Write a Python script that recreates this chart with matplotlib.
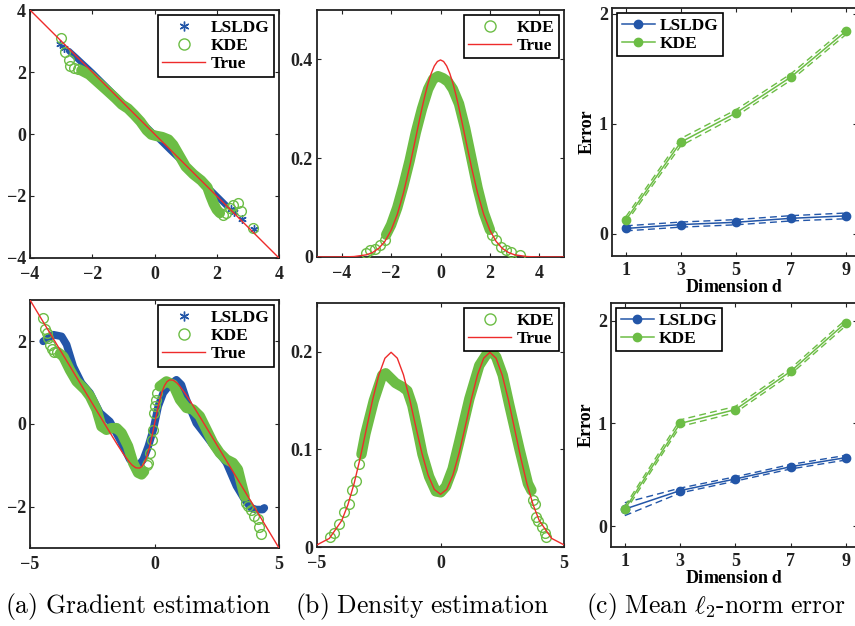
import matplotlib
matplotlib.use("Agg")
import matplotlib.pyplot as plt
from matplotlib.lines import Line2D

plt.rcParams['font.family'] = 'Liberation Serif'
plt.rcParams['font.weight'] = 'bold'
plt.rcParams['font.size'] = 13
plt.rcParams['mathtext.fontset'] = 'stix'

BLUE = '#2356a8'
GREEN = '#6cbd45'
RED = '#ee2b2b'
ASTER = (6, 2, 0)

# ---- (a) gradient, gaussian (top) ----
grad1_true_x = [-4, 4]
grad1_true_y = [4, -4]
ls1_core_x = [-2.75, -2.5, -2.0, -1.5, -1.0, -0.5, 0.0, 0.5, 1.0, 1.5, 2.0, 2.3]
ls1_core_y = [2.68, 2.45, 1.98, 1.48, 0.98, 0.48, -0.02, -0.52, -1.0, -1.5, -2.0, -2.3]
ls1_loose_x = [-3.05, -2.9, 2.45, 2.55, 2.8, 3.2]
ls1_loose_y = [2.9, 2.78, -2.42, -2.5, -2.75, -3.05]
kde1_core_x = [-2.35, -2.1, -1.8, -1.5, -1.25, -1.05, -0.85, -0.65, -0.45, -0.25, -0.1, 0.05,
               0.25, 0.45, 0.6, 0.8, 1.0, 1.25, 1.5, 1.7, 1.8, 1.9, 2.0, 2.1]
kde1_core_y = [2.05, 1.92, 1.65, 1.38, 1.15, 0.95, 0.82, 0.62, 0.4, 0.12, -0.02, -0.06,
               -0.1, -0.18, -0.35, -0.7, -1.05, -1.3, -1.5, -1.72, -2.0, -2.25, -2.44, -2.55]
kde1_loose_x = [-3.0, -2.89, -2.76, -2.7, -2.6, -2.47, 2.2, 2.31, 2.42, 2.52, 2.68, 2.79, 3.17]
kde1_loose_y = [3.09, 2.66, 2.4, 2.2, 2.13, 2.1, -2.6, -2.55, -2.38, -2.28, -2.24, -2.49, -3.03]

# ---- (a) gradient, mixture (bottom) ----
grad2_true_x = [-5, -4, -3, -2.5, -2, -1.75, -1.5, -1.25, -1, -0.9, -0.75, -0.6, -0.5, -0.4, -0.3,
                -0.2, -0.1, 0, 0.1, 0.2, 0.3, 0.4, 0.5, 0.6, 0.75, 0.9, 1, 1.25, 1.5, 1.75, 2,
                2.5, 3, 4, 5]
grad2_true_y = [3.0, 2.0, 1.0, 0.5, 0.001, -0.246, -0.49, -0.723, -0.928, -0.994, -1.06, -1.067,
                -1.023, -0.928, -0.774, -0.56, -0.295, 0, 0.295, 0.56, 0.774, 0.928, 1.023, 1.067,
                1.06, 0.994, 0.928, 0.723, 0.49, 0.246, -0.001, -0.5, -1.0, -2.0, -3.0]
ls2_core_x = [-4.47, -4.06, -3.73, -3.53, -3.26, -2.93, -2.59, -2.19, -1.79, -1.39, -0.99, -0.66,
              -0.45, -0.25, -0.05, 0.15, 0.35, 0.61, 0.88, 1.08, 1.28, 1.68, 2.09, 2.49, 2.89,
              3.29, 3.62, 3.88, 4.08, 4.35, 4.41]
ls2_core_y = [2.0, 2.16, 2.12, 1.92, 1.39, 0.99, 0.75, 0.27, 0.06, -0.38, -0.86, -1.02, -0.86,
              -0.54, -0.14, 0.43, 0.75, 0.95, 1.07, 0.95, 0.59, 0.02, -0.3, -0.62, -0.94, -1.5,
              -1.83, -2.03, -2.07, -2.07, -2.03]
kde2_left_x = [-3.8, -3.66, -3.4, -3.13, -2.79, -2.59, -2.33, -2.13, -1.93, -1.72, -1.52, -1.32,
               -1.06, -0.86, -0.66, -0.52, -0.42]
kde2_left_y = [1.7, 1.63, 1.31, 1.03, 0.83, 0.67, 0.35, -0.06, -0.14, -0.1, -0.1, -0.22, -0.54,
               -0.94, -1.18, -1.22, -1.15]
kde2_right_x = [0.21, 0.48, 0.75, 1.02, 1.28, 1.55, 1.82, 2.09, 2.35, 2.62, 2.89, 3.15, 3.35,
                3.48, 3.62]
kde2_right_y = [0.91, 1.03, 0.95, 0.59, 0.39, 0.35, 0.19, -0.14, -0.46, -0.7, -0.86, -0.94, -1.1,
                -1.42, -1.75]
kde2_loose_x = [-4.47, -4.4, -4.33, -4.26, -4.2, -4.13, -4.04, -3.93,
                -0.32, -0.25, -0.19, -0.12, -0.08, -0.03, 0.01, 0.05, 0.11,
                3.68, 3.75, 3.88, 4.01, 4.15, 4.21, 4.28]
kde2_loose_y = [2.56, 2.29, 2.21, 2.08, 1.92, 1.81, 1.75, 1.73,
                -1.0, -0.94, -0.7, -0.38, -0.14, 0.27, 0.43, 0.59, 0.75,
                -1.91, -1.99, -2.07, -2.23, -2.31, -2.49, -2.67]

# ---- (b) density, gaussian (top) ----
dens1_true_x = [-5, -4, -3.5, -3, -2.75, -2.5, -2.25, -2, -1.75, -1.5, -1.25, -1, -0.875, -0.75,
                -0.625, -0.5, -0.375, -0.25, -0.125, 0, 0.125, 0.25, 0.375, 0.5, 0.625, 0.75,
                0.875, 1, 1.25, 1.5, 1.75, 2, 2.25, 2.5, 2.75, 3, 3.5, 4, 5]
dens1_true_y = [0.0, 0.0001, 0.0009, 0.0044, 0.0091, 0.0175, 0.0317, 0.054, 0.0863, 0.1295,
                0.1826, 0.242, 0.2719, 0.3011, 0.328, 0.3521, 0.3717, 0.3867, 0.3958, 0.3989,
                0.3958, 0.3867, 0.3717, 0.3521, 0.328, 0.3011, 0.2719, 0.242, 0.1826, 0.1295,
                0.0863, 0.054, 0.0317, 0.0175, 0.0091, 0.0044, 0.0009, 0.0001, 0.0]
kde3_core_x = [-2.2, -2.0, -1.75, -1.5, -1.25, -1.0, -0.75, -0.5, -0.3, -0.1, 0.1, 0.3, 0.5,
               0.75, 1.0, 1.25, 1.5, 1.75, 2.0]
kde3_core_y = [0.045, 0.065, 0.1, 0.145, 0.195, 0.252, 0.3, 0.34, 0.36, 0.366, 0.362, 0.355,
               0.34, 0.31, 0.26, 0.2, 0.14, 0.09, 0.055]
kde3_loose_x = [-3.0, -2.85, -2.64, -2.44, -2.24, 2.1, 2.24, 2.44, 2.64, 2.85, 3.23]
kde3_loose_y = [0.009, 0.0136, 0.017, 0.024, 0.034, 0.044, 0.034, 0.02, 0.014, 0.01, 0.0034]

# ---- (b) density, mixture (bottom) ----
dens2_true_x = [-5, -4.5, -4, -3.75, -3.5, -3.25, -3, -2.75, -2.5, -2.25, -2, -1.75, -1.5,
                -1.25, -1, -0.75, -0.5, -0.25, 0, 0.25, 0.5, 0.75, 1, 1.25, 1.5, 1.75, 2, 2.25,
                2.5, 2.75, 3, 3.25, 3.5, 3.75, 4, 4.5, 5]
dens2_true_y = [0.0022, 0.0088, 0.027, 0.0432, 0.0648, 0.0913, 0.121, 0.1506, 0.176, 0.1934,
                0.1995, 0.1935, 0.1765, 0.1516, 0.1232, 0.0959, 0.0735, 0.059, 0.054, 0.059,
                0.0735, 0.0959, 0.1232, 0.1516, 0.1765, 0.1935, 0.1995, 0.1934, 0.176, 0.1506,
                0.121, 0.0913, 0.0648, 0.0432, 0.027, 0.0088, 0.0022]
kde4_core_x = [-3.2, -3.04, -2.7, -2.36, -2.22, -2.02, -1.82, -1.54, -1.34, -1.14, -0.93, -0.73,
               -0.46, -0.19, 0.01, 0.22, 0.49, 0.76, 1.17, 1.57, 1.98, 2.25, 2.52, 2.79, 3.2,
               3.54, 3.68]
kde4_core_y = [0.095, 0.116, 0.150, 0.176, 0.178, 0.173, 0.168, 0.164, 0.160, 0.145, 0.12, 0.095,
               0.072, 0.057, 0.056, 0.062, 0.08, 0.108, 0.152, 0.186, 0.202, 0.195, 0.176, 0.145,
               0.1, 0.065, 0.058]
kde4_loose_x = [-4.46, -4.32, -4.12, -3.92, -3.71, -3.58, -3.44, -3.31,
                3.75, 3.82, 3.88, 3.95, 4.09, 4.22, 4.28]
kde4_loose_y = [0.010, 0.014, 0.024, 0.036, 0.044, 0.058, 0.068, 0.085,
                0.048, 0.044, 0.031, 0.027, 0.021, 0.014, 0.010]

# ---- (c) mean error vs dimension ----
dims = [1, 3, 5, 7, 9]
err1_ls = [0.05, 0.085, 0.106, 0.142, 0.164]
err1_ls_lo = [0.028, 0.062, 0.083, 0.118, 0.138]
err1_ls_hi = [0.074, 0.108, 0.13, 0.166, 0.19]
err1_kde = [0.127, 0.833, 1.097, 1.424, 1.84]
err1_kde_lo = [0.1, 0.8, 1.068, 1.395, 1.81]
err1_kde_hi = [0.155, 0.866, 1.126, 1.453, 1.87]
err2_ls = [0.168, 0.348, 0.461, 0.58, 0.668]
err2_ls_lo = [0.105, 0.325, 0.44, 0.558, 0.645]
err2_ls_hi = [0.23, 0.372, 0.482, 0.602, 0.69]
err2_kde = [0.168, 1.0, 1.135, 1.506, 1.98]
err2_kde_lo = [0.14, 0.97, 1.105, 1.478, 1.95]
err2_kde_hi = [0.196, 1.035, 1.165, 1.534, 2.01]

W, H = 855, 626
FS = 13
BAND = 7.5
fig = plt.figure(figsize=(W / 100, H / 100), dpi=100)


def box(l, t, r, b):
    return [l / W, 1 - b / H, (r - l) / W, (b - t) / H]


def style(ax, xpad=6):
    ax.tick_params(direction='in', length=3, width=0.8, top=True, right=True,
                   labelsize=FS, pad=3, colors='#222222')
    ax.tick_params(axis='x', pad=xpad)
    for s in ax.spines.values():
        s.set_linewidth(1.3)
        s.set_color('#222222')
    for lab in ax.get_xticklabels() + ax.get_yticklabels():
        lab.set_fontweight('bold')


def add_legend(ax, handles, labels, loc, hl):
    leg = ax.legend(handles, labels, loc=loc, fancybox=False, framealpha=1,
                    edgecolor='black', handlelength=hl, labelspacing=0.12,
                    borderpad=0.25, borderaxespad=0.3, handletextpad=0.3,
                    prop={'weight': 'bold', 'size': 12.5})
    leg.get_frame().set_linewidth(1.2)


def grad_legend(ax):
    h = [Line2D([], [], ls='none', marker=ASTER, color=BLUE, ms=7, mew=1),
         Line2D([], [], ls='none', marker='o', mfc='none', mec=GREEN, ms=8, mew=1),
         Line2D([], [], color=RED, lw=1)]
    add_legend(ax, h, ['LSLDG', 'KDE', 'True'], 'upper right', 2.5)


def dens_legend(ax):
    h = [Line2D([], [], ls='none', marker='o', mfc='none', mec=GREEN, ms=8, mew=1),
         Line2D([], [], color=RED, lw=1)]
    add_legend(ax, h, ['KDE', 'True'], 'upper right', 2.5)


def err_panel(ax, ls, ls_lo, ls_hi, kde, kde_lo, kde_hi, ylim):
    for y in (ls_lo, ls_hi):
        ax.plot(dims, y, '--', color=BLUE, lw=1.0, dashes=(5, 3))
    for y in (kde_lo, kde_hi):
        ax.plot(dims, y, '--', color=GREEN, lw=1.0, dashes=(5, 3))
    l1, = ax.plot(dims, ls, '-o', color=BLUE, lw=1.1, ms=6, mec=BLUE)
    l2, = ax.plot(dims, kde, '-o', color=GREEN, lw=1.1, ms=6, mec=GREEN)
    ax.set_xlim(0.5, 9.4)
    ax.set_ylim(*ylim)
    ax.set_xticks(dims)
    ax.set_yticks([0, 1, 2])
    ax.set_xlabel(r'Dimension $\mathrm{d}$', fontweight='bold', fontsize=FS, labelpad=0.5)
    ax.set_ylabel('Error', fontweight='bold', fontsize=FS, labelpad=2)
    style(ax, xpad=4)
    add_legend(ax, [l1, l2], ['LSLDG', 'KDE'], 'upper left', 1.9)


def band(ax, x, y, color, lw, z):
    ax.plot(x, y, color=color, lw=lw, solid_joinstyle='round', solid_capstyle='round', zorder=z)


def circles(ax, x, y):
    ax.plot(x, y, ls='none', marker='o', mfc='none', mec=GREEN, ms=7, mew=1, zorder=3)


# (a) top
ax = fig.add_axes(box(30, 10, 279, 258))
band(ax, ls1_core_x, ls1_core_y, BLUE, 4.5, 2)
ax.plot(ls1_loose_x, ls1_loose_y, ls='none', marker=ASTER, color=BLUE, ms=6, mew=1, zorder=2)
band(ax, kde1_core_x, kde1_core_y, GREEN, BAND, 3)
circles(ax, kde1_loose_x, kde1_loose_y)
ax.plot(grad1_true_x, grad1_true_y, color=RED, lw=1, zorder=4)
ax.set_xlim(-4, 4)
ax.set_ylim(-4, 4)
ax.set_xticks([-4, -2, 0, 2, 4])
ax.set_yticks([-4, -2, 0, 2, 4])
ax.set_xticklabels(['\u22124', '\u22122', '0', '2', '4'])
ax.set_yticklabels(['\u22124', '\u22122', '0', '2', '4'])
style(ax)
grad_legend(ax)

# (a) bottom
ax = fig.add_axes(box(30, 300, 279, 548))
band(ax, ls2_core_x, ls2_core_y, BLUE, 5.5, 2)
band(ax, kde2_left_x, kde2_left_y, GREEN, BAND, 3)
band(ax, kde2_right_x, kde2_right_y, GREEN, BAND, 3)
circles(ax, kde2_loose_x, kde2_loose_y)
ax.plot(grad2_true_x, grad2_true_y, color=RED, lw=1, zorder=4)
ax.set_xlim(-5, 5)
ax.set_ylim(-3, 3)
ax.set_xticks([-5, 0, 5])
ax.set_yticks([-2, 0, 2])
ax.set_xticklabels(['\u22125', '0', '5'])
ax.set_yticklabels(['\u22122', '0', '2'])
style(ax)
grad_legend(ax)

# (b) top
ax = fig.add_axes(box(317, 10, 564, 257))
band(ax, kde3_core_x, kde3_core_y, GREEN, BAND, 3)
circles(ax, kde3_loose_x, kde3_loose_y)
ax.plot(dens1_true_x, dens1_true_y, color=RED, lw=1, zorder=4)
ax.set_xlim(-5, 5)
ax.set_ylim(0, 0.5)
ax.set_xticks([-4, -2, 0, 2, 4])
ax.set_yticks([0, 0.2, 0.4])
ax.set_xticklabels(['\u22124', '\u22122', '0', '2', '4'])
ax.set_yticklabels(['0', '0.2', '0.4'])
style(ax)
dens_legend(ax)

# (b) bottom
ax = fig.add_axes(box(317, 303, 564, 547))
band(ax, kde4_core_x, kde4_core_y, GREEN, BAND, 3)
circles(ax, kde4_loose_x, kde4_loose_y)
ax.plot(dens2_true_x, dens2_true_y, color=RED, lw=1, zorder=4)
ax.set_xlim(-5, 5)
ax.set_ylim(0, 0.25)
ax.set_xticks([-5, 0, 5])
ax.set_yticks([0, 0.1, 0.2])
ax.set_xticklabels(['\u22125', '0', '5'])
ax.set_yticklabels(['0', '0.1', '0.2'])
style(ax)
dens_legend(ax)

# (c) top / bottom
ax = fig.add_axes(box(612, 8, 857, 256))
err_panel(ax, err1_ls, err1_ls_lo, err1_ls_hi, err1_kde, err1_kde_lo, err1_kde_hi, (-0.2, 2.05))
ax = fig.add_axes(box(611, 303, 857, 547))
err_panel(ax, err2_ls, err2_ls_lo, err2_ls_hi, err2_kde, err2_kde_lo, err2_kde_hi, (-0.2, 2.17))

# captions
captions = [r'$\mathrm{(a)\ Gradient\ estimation}$',
            r'$\mathrm{(b)\ Density\ estimation}$',
            r'$\mathrm{(c)\ Mean\ }\ell_2\mathrm{\text{-}norm\ error}$']
cap_x = [138, 422, 716]
for cx, txt in zip(cap_x, captions):
    fig.text(cx / W, 1 - 607 / H, txt, ha='center', va='center', fontsize=18.5,
             math_fontfamily='cm')

fig.savefig('out.png', dpi=100)
